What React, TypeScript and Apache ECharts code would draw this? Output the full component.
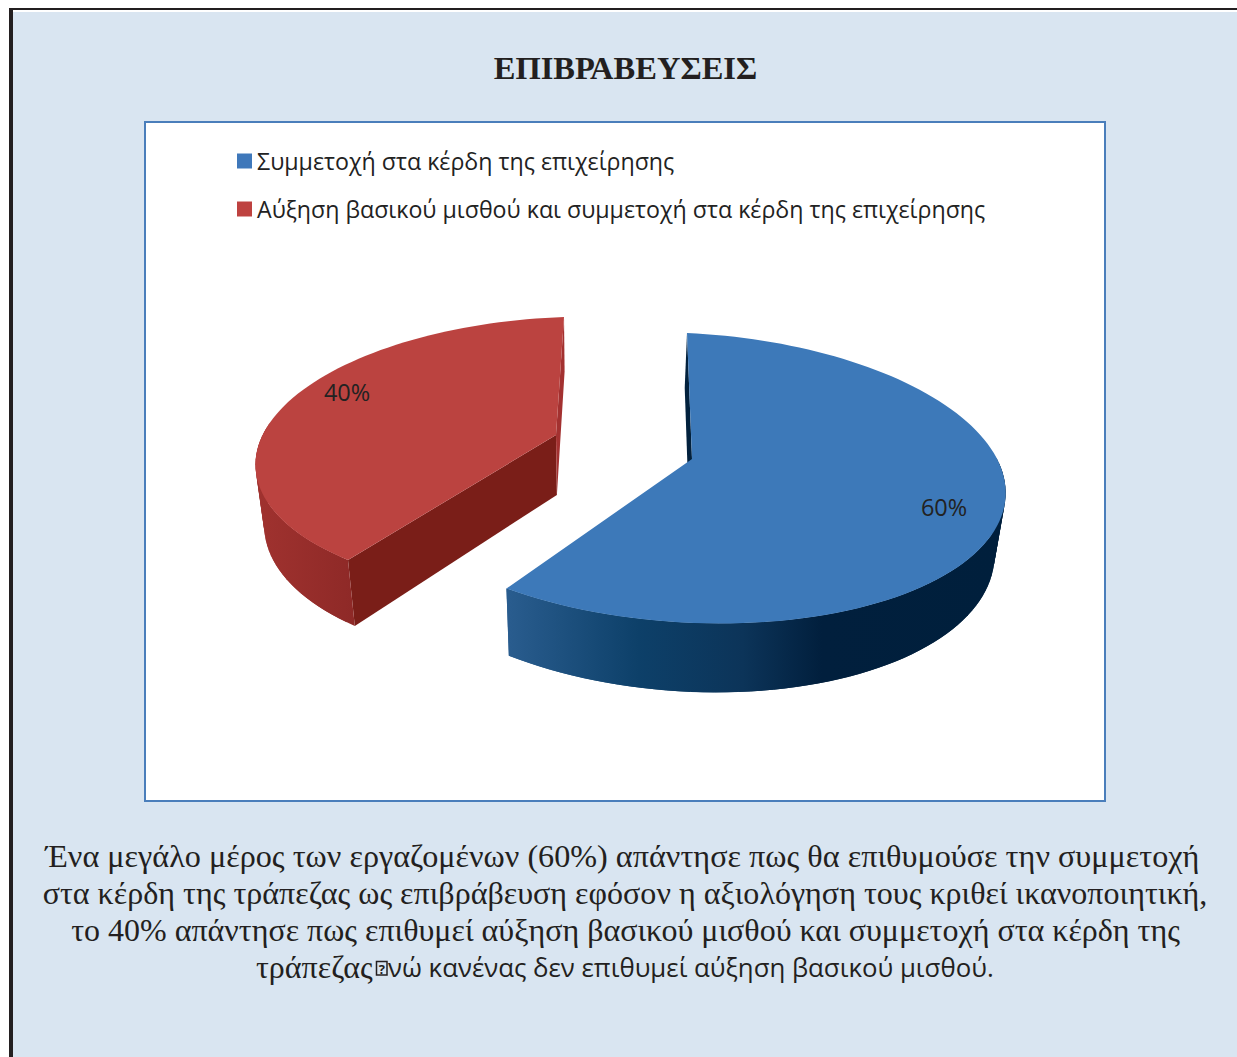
import React, { useEffect, useRef } from "react";
import * as echarts from "echarts";

const titleText = "ΕΠΙΒΡΑΒΕΥΣΕΙΣ";
const categories = [
  "Συμμετοχή στα κέρδη της επιχείρησης",
  "Αύξηση βασικού μισθού και συμμετοχή στα κέρδη της επιχείρησης",
];
const shares = [60, 40];
const captionLines = [
  "Ένα μεγάλο μέρος των εργαζομένων (60%) απάντησε πως θα επιθυμούσε την συμμετοχή",
  "στα κέρδη της τράπεζας ως επιβράβευση εφόσον η αξιολόγηση τους κριθεί ικανοποιητική,",
  "το 40% απάντησε πως επιθυμεί αύξηση βασικού μισθού και συμμετοχή στα κέρδη της",
];
const captionLastLeft = "τράπεζας";
const captionLastRight = "νώ κανένας δεν επιθυμεί αύξηση βασικού μισθού.";

type P = [number, number];

function solve(A: number[][], b: number[]): number[] {
  const n = b.length;
  const M = A.map((r, i) => [...r, b[i]]);
  for (let c = 0; c < n; c++) {
    let p = c;
    for (let r = c + 1; r < n; r++) if (Math.abs(M[r][c]) > Math.abs(M[p][c])) p = r;
    [M[c], M[p]] = [M[p], M[c]];
    for (let r = 0; r < n; r++) {
      if (r === c) continue;
      const f = M[r][c] / M[c][c];
      for (let k = c; k <= n; k++) M[r][k] -= f * M[c][k];
    }
  }
  return M.map((r, i) => r[n] / r[i]);
}

// Perspective view of a flat disc, fixed by its centre and three rim points.
function makeDisc(center: P, rim: { deg: number; at: P }[], turn: (d: number) => number) {
  const [x0, y0] = center;
  const A: number[][] = [];
  const b: number[] = [];
  rim.forEach(({ deg, at }) => {
    const t = (deg * Math.PI) / 180;
    const u = Math.sin(t);
    const v = -Math.cos(t);
    A.push([u, v, 0, 0, -u * at[0], -v * at[0]]);
    b.push(at[0] - x0);
    A.push([0, 0, u, v, -u * at[1], -v * at[1]]);
    b.push(at[1] - y0);
  });
  const [a, bb, c, d, g, h] = solve(A, b);
  return (deg: number, r = 1): P => {
    const t = (turn(deg) * Math.PI) / 180;
    const u = r * Math.sin(t);
    const v = -r * Math.cos(t);
    const w = g * u + h * v + 1;
    return [(a * u + bb * v + x0) / w, (c * u + d * v + y0) / w];
  };
}

// Where a point of the top face lands on the bottom face of the pie.
const drop = (p: P): P => {
  const depth = 55 + (p[1] - 333) * 0.048;
  return [p[0] + (590 - p[0]) * 0.029 * (depth / 68), p[1] + depth];
};

const blueDisc = makeDisc(
  [692, 459],
  [
    { deg: 3.4, at: [687, 333] },
    { deg: 90, at: [999, 463] },
    { deg: 180, at: [720, 623.5] },
  ],
  (d) => 3.4 + d * 0.9824
);
const redDisc = makeDisc(
  [556, 435],
  [
    { deg: 216, at: [348, 560] },
    { deg: 270, at: [260, 441] },
    { deg: 360, at: [564, 317] },
  ],
  (d) => d
);

const looks = [
  {
    disc: blueDisc,
    top: "#3d79b9",
    legend: "#3f78ba",
    faces: [{ at: "start", fill: "#02213d" }],
    labelR: 0.82,
    labelTurn: 2.5,
    wall: new echarts.graphic.LinearGradient(
      505, 0, 1000, 0,
      [
        { offset: 0, color: "#2a5d8f" },
        { offset: 0.27, color: "#0d4069" },
        { offset: 0.48, color: "#0c3459" },
        { offset: 0.64, color: "#011f3d" },
        { offset: 1, color: "#001f3c" },
      ],
      true
    ),
  },
  {
    disc: redDisc,
    top: "#bb4340",
    legend: "#be4240",
    faces: [
      { at: "start", fill: "#7a1e18" },
      { at: "end", fill: "#a33130" },
    ],
    labelR: 0.84,
    labelTurn: 9,
    wall: new echarts.graphic.LinearGradient(
      256, 0, 355, 0,
      [
        { offset: 0, color: "#a0322f" },
        { offset: 1, color: "#8e2927" },
      ],
      true
    ),
  },
];

const fontSans = "'Open Sans', sans-serif";
const fontSerif = "'Liberation Serif', serif";
const ink = "#231f20";

function sliceItem(index: number) {
  return (_params: any, api: any) => {
    const look = looks[index];
    const before = shares.slice(0, index).reduce((s, x) => s + x, 0);
    const start = (before / 100) * 360;
    const end = start + (api.value(0) / 100) * 360;
    const rim: { deg: number; p: P }[] = [];
    for (let d = start; d <= end + 0.001; d += 2) rim.push({ deg: d, p: look.disc(d) });
    const apex = look.disc(0, 0);
    const radial = (p: P) => [p, drop(p), drop(apex), apex];
    const faces = look.faces.map((f) => ({
      type: "polygon",
      shape: { points: radial(f.at === "start" ? rim[0].p : rim[rim.length - 1].p) },
      style: { fill: f.fill },
    }));
    // Outer wall: overlapping strips, near side only (the far side is hidden by the top face).
    const strips: any[] = [];
    for (let i = 0; i + 1 < rim.length; i++) {
      if (Math.cos((rim[i].deg * Math.PI) / 180) > 0.1) continue;
      const a = rim[i].p;
      const b = rim[Math.min(i + 2, rim.length - 1)].p;
      strips.push({
        type: "polygon",
        shape: { points: [a, b, drop(b), drop(a)] },
        style: { fill: look.wall },
      });
    }
    const labelAt = look.disc((start + end) / 2 + look.labelTurn, look.labelR);
    return {
      type: "group",
      children: [
        ...faces,
        ...strips,
        { type: "polygon", shape: { points: [apex, ...rim.map((r) => r.p)] }, style: { fill: look.top } },
        {
          type: "text",
          x: labelAt[0],
          y: labelAt[1],
          style: {
            text: `${api.value(0)}%`,
            fill: "#222222",
            font: `23.5px ${fontSans}`,
            textAlign: "center",
            textVerticalAlign: "middle",
          },
        },
      ],
    };
  };
}

const rect = (x: number, y: number, width: number, height: number, fill: string, z = 0, stroke?: string, lineWidth?: number) => ({
  type: "rect",
  z,
  shape: { x, y, width, height },
  style: { fill, stroke, lineWidth },
});

const captionText = (text: string, x: number, y: number, align: string, font: string) => ({
  type: "text",
  x,
  y,
  z: 5,
  style: {
    text,
    fill: ink,
    font,
    textAlign: align,
    textVerticalAlign: "middle",
  },
});

const option: any = {
  animation: false,
  backgroundColor: "#ffffff",
  title: {
    text: titleText,
    left: 620.5,
    top: 46,
    textAlign: "center",
    textStyle: { fontFamily: fontSerif, fontWeight: "bold", fontSize: 32.5, color: ink },
  },
  legend: {
    data: categories,
    orient: "vertical",
    left: 237,
    top: 146,
    icon: "rect",
    itemWidth: 15,
    itemHeight: 15,
    itemGap: 18,
    padding: 0,
    selectedMode: false,
    textStyle: { fontFamily: fontSans, fontSize: 23.2, color: "#222222", height: 30, lineHeight: 30 },
  },
  graphic: {
    elements: [
      rect(9, 8, 1228, 1049, "#ffffff", -10),
      rect(13, 12, 1224, 1045, "#d9e5f1", -9),
      rect(9, 8, 1228, 2, ink, -8),
      rect(9, 8, 4, 1049, ink, -8),
      rect(145, 122, 960, 679, "#ffffff", -7, "#4a7ebb", 2),
      captionText(captionLines[0], 622.5, 855.5, "center", `32.2px ${fontSerif}`),
      captionText(captionLines[1], 625, 892.5, "center", `32.05px ${fontSerif}`),
      captionText(captionLines[2], 625.5, 929.5, "center", `32px ${fontSerif}`),
      captionText(captionLastLeft, 256, 966.5, "left", `32px ${fontSerif}`),
      rect(376.5, 961.5, 10.5, 13.5, "none", 5, ink, 1.5),
      captionText("?", 381.8, 968.5, "center", `bold 13px ${fontSans}`),
      captionText(captionLastRight, 388, 967, "left", `25.8px ${fontSans}`),
    ],
  },
  series: categories.map((name, i) => ({
    type: "custom",
    name,
    coordinateSystem: "none",
    silent: true,
    itemStyle: { color: looks[i].legend },
    data: [[shares[i]]],
    renderItem: sliceItem(i),
  })),
};

export default function App() {
  const ref = useRef<HTMLDivElement>(null);
  useEffect(() => {
    const chart = echarts.init(ref.current!, undefined, { renderer: "svg" });
    chart.setOption(option);
    return () => chart.dispose();
  }, []);
  return <div ref={ref} style={{ position: "absolute", left: 0, top: 0, width: 1237, height: 1057 }} />;
}
